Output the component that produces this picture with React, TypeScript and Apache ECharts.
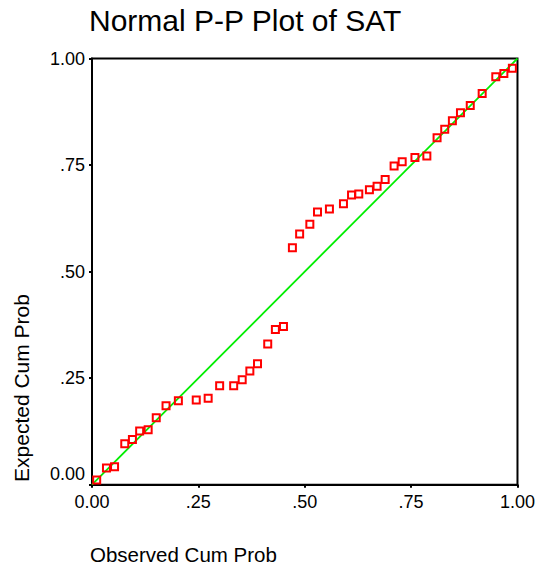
import React, { useEffect, useRef } from "react";
import * as echarts from "echarts";

// Observed vs expected cumulative probabilities for SAT
const observedCumProb = [
  0.011, 0.034, 0.053, 0.077, 0.095, 0.112, 0.132, 0.151, 0.174, 0.203,
  0.245, 0.273, 0.300, 0.333, 0.353, 0.371, 0.389, 0.413, 0.431, 0.450,
  0.471, 0.488, 0.512, 0.530, 0.558, 0.591, 0.610, 0.627, 0.652, 0.670,
  0.689, 0.710, 0.729, 0.759, 0.787, 0.811, 0.829, 0.847, 0.866, 0.889,
  0.917, 0.949, 0.968, 0.988,
];
const expectedCumProb = [
  0.011, 0.039, 0.042, 0.096, 0.106, 0.126, 0.129, 0.157, 0.185, 0.197,
  0.199, 0.203, 0.232, 0.232, 0.246, 0.267, 0.284, 0.330, 0.364, 0.371,
  0.556, 0.588, 0.611, 0.640, 0.647, 0.659, 0.680, 0.682, 0.692, 0.700,
  0.716, 0.748, 0.758, 0.768, 0.771, 0.814, 0.834, 0.854, 0.873, 0.890,
  0.918, 0.957, 0.965, 0.977,
];
// Reference line of a perfect normal fit
const referenceLine = [
  [0, 0],
  [1, 1],
];
const tickValues = [0, 0.25, 0.5, 0.75, 1];
const tickLabels = ["0.00", ".25", ".50", ".75", "1.00"];

const FONT = "'Liberation Sans', Arial, Helvetica, sans-serif";

function labelFor(v: number): string {
  const i = tickValues.findIndex((t) => Math.abs(t - v) < 1e-6);
  return i >= 0 ? tickLabels[i] : "";
}

export default function App() {
  const ref = useRef<HTMLDivElement>(null);

  useEffect(() => {
    if (!ref.current) return;
    const chart = echarts.init(ref.current, undefined, { renderer: "svg" });
    const points = observedCumProb.map((x, i) => [x, expectedCumProb[i]]);

    chart.setOption({
      animation: false,
      backgroundColor: "#ffffff",
      title: {
        text: "Normal P-P Plot of SAT",
        left: 89,
        top: 5,
        padding: 0,
        textStyle: {
          fontFamily: FONT,
          fontSize: 30,
          fontWeight: "normal",
          color: "#000",
        },
      },
      grid: {
        left: 92,
        top: 58.5,
        width: 428,
        height: 426.2,
        show: true,
        borderColor: "#000",
        borderWidth: 2,
        backgroundColor: "transparent",
      },
      xAxis: {
        type: "value",
        min: 0,
        max: 1,
        interval: 0.25,
        splitLine: { show: false },
        axisLine: { show: true, lineStyle: { color: "#000", width: 2 } },
        axisTick: { show: true, length: 3, lineStyle: { color: "#000", width: 2 } },
        axisLabel: {
          margin: 8,
          fontFamily: FONT,
          fontSize: 18,
          color: "#000",
          formatter: (v: number) => labelFor(v),
        },
      },
      yAxis: {
        type: "value",
        min: 0,
        max: 1,
        interval: 0.25,
        splitLine: { show: false },
        axisLine: { show: true, lineStyle: { color: "#000", width: 2 } },
        axisTick: { show: true, length: 3, lineStyle: { color: "#000", width: 2 } },
        axisLabel: {
          margin: 7,
          fontFamily: FONT,
          fontSize: 18,
          color: "#000",
          formatter: (v: number) =>
            v === 0 ? `{low|${labelFor(v)}}` : `{n|${labelFor(v)}}`,
          rich: {
            n: { fontFamily: FONT, fontSize: 18, color: "#000" },
            low: {
              fontFamily: FONT,
              fontSize: 18,
              color: "#000",
              padding: [0, 0, 22, 0],
            },
          },
        },
      },
      graphic: [
        {
          type: "text",
          left: 90,
          top: 544,
          style: {
            text: "Observed Cum Prob",
            font: `20.5px ${FONT}`,
            fill: "#000",
          },
        },
        {
          type: "text",
          x: 21.5,
          y: 388,
          rotation: Math.PI / 2,
          style: {
            text: "Expected Cum Prob",
            font: `21px ${FONT}`,
            fill: "#000",
            align: "center",
            verticalAlign: "middle",
          },
        },
      ],
      series: [
        {
          type: "line",
          data: referenceLine,
          symbol: "none",
          lineStyle: { color: "#00ee00", width: 1.8 },
          z: 2,
          silent: true,
        },
        {
          type: "scatter",
          data: points,
          symbol: "rect",
          symbolSize: 7,
          itemStyle: {
            color: "transparent",
            borderColor: "#ff0000",
            borderWidth: 2,
            opacity: 1,
          },
          z: 3,
        },
      ],
    });

    return () => chart.dispose();
  }, []);

  return (
    <div
      ref={ref}
      style={{ position: "fixed", left: 0, top: 0, width: 538, height: 566 }}
    />
  );
}
